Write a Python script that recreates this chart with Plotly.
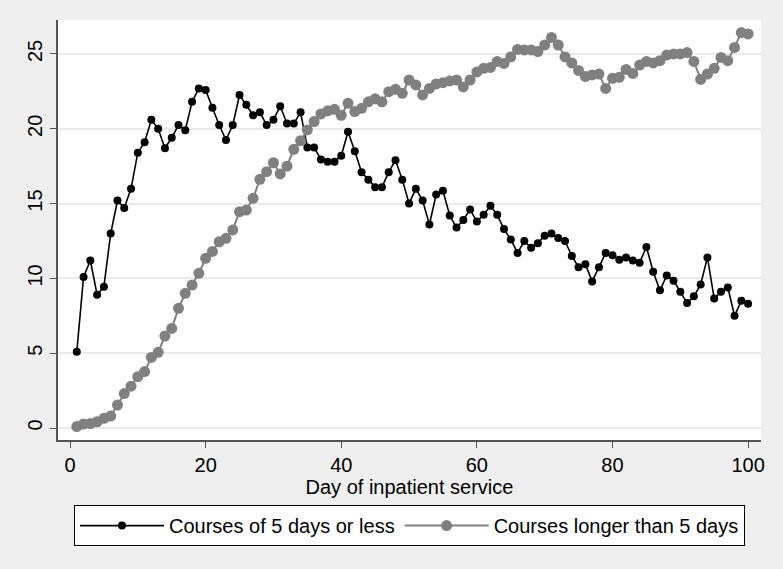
import plotly.graph_objects as go

days = list(range(1, 101))

short_courses = [
    5.1, 10.1, 11.2, 8.9, 9.45, 13.0, 15.2, 14.7, 16.0, 18.4,
    19.1, 20.6, 20.0, 18.7, 19.4, 20.25, 19.9, 21.8, 22.7, 22.6,
    21.4, 20.25, 19.25, 20.25, 22.25, 21.6, 20.9, 21.1, 20.25, 20.6,
    21.5, 20.35, 20.35, 21.1, 18.75, 18.75, 17.95, 17.8, 17.8, 18.2,
    19.8, 18.5, 17.1, 16.6, 16.1, 16.1, 17.1, 17.9, 16.6, 15.0,
    16.0, 15.2, 13.6, 15.6, 15.85, 14.2, 13.4, 13.9, 14.6, 13.8,
    14.25, 14.85, 14.25, 13.3, 12.6, 11.7, 12.5, 12.05, 12.35, 12.85,
    13.0, 12.7, 12.5, 11.5, 10.75, 10.95, 9.8, 10.75, 11.7, 11.55,
    11.25, 11.4, 11.2, 11.05, 12.1, 10.45, 9.2, 10.2, 9.85, 9.1,
    8.35, 8.8, 9.6, 11.4, 8.65, 9.1, 9.4, 7.5, 8.5, 8.3,
]

long_courses = [
    0.1, 0.27, 0.3, 0.42, 0.65, 0.8, 1.54, 2.3, 2.8, 3.43,
    3.77, 4.72, 5.06, 6.15, 6.66, 8.0, 9.0, 9.56, 10.34, 11.34,
    11.8, 12.45, 12.68, 13.24, 14.46, 14.57, 15.35, 16.62, 17.13, 17.73,
    16.98, 17.5, 18.63, 19.2, 19.92, 20.48, 20.99, 21.2, 21.3, 20.9,
    21.7, 21.15, 21.37, 21.8, 22.0, 21.8, 22.48, 22.64, 22.37, 23.26,
    22.93, 22.26, 22.7, 23.0, 23.08, 23.2, 23.26, 22.8, 23.26, 23.8,
    24.04, 24.1, 24.5, 24.37, 24.8, 25.3, 25.27, 25.27, 25.16, 25.6,
    26.1, 25.6, 24.8, 24.4, 23.9, 23.5, 23.6, 23.66, 22.7, 23.37,
    23.44, 23.97, 23.7, 24.26, 24.5, 24.4, 24.55, 24.93, 25.0, 25.0,
    25.09, 24.5, 23.3, 23.66, 24.04, 24.77, 24.55, 25.44, 26.43, 26.34,
]

x_ticks = [0, 20, 40, 60, 80, 100]
y_ticks = [0, 5, 10, 15, 20, 25]
x_title = "Day of inpatient service"
name_short = "Courses of 5 days or less"
name_long = "Courses longer than 5 days"

FONT = "Liberation Sans, Arial, Helvetica, sans-serif"

fig = go.Figure()
fig.add_trace(go.Scatter(
    x=days, y=short_courses, name=name_short, mode="lines+markers",
    line=dict(color="#000000", width=1.6),
    marker=dict(color="#000000", size=8),
))
fig.add_trace(go.Scatter(
    x=days, y=long_courses, name=name_long, mode="lines+markers",
    line=dict(color="#808080", width=2),
    marker=dict(color="#808080", size=11),
))

fig.update_layout(
    width=783, height=569,
    margin=dict(l=58, r=22, t=20, b=129),
    paper_bgcolor="#efefef",
    plot_bgcolor="#ffffff",
    font=dict(family=FONT, size=20, color="#000000"),
    showlegend=True,
    legend=dict(
        orientation="h", x=0.5, xanchor="center", y=-0.155, yanchor="top",
        bgcolor="#ffffff", bordercolor="#000000", borderwidth=1,
        font=dict(family=FONT, size=20, color="#000000"),
        itemwidth=84,
    ),
    xaxis=dict(
        range=[-1.77, 101.9], tickvals=x_ticks,
        showgrid=False, zeroline=False,
        showline=True, linecolor="#555555", linewidth=1.5,
        ticks="outside", ticklen=6, tickcolor="#555555",
        tickfont=dict(size=20),
        title=dict(text=x_title, font=dict(size=20), standoff=2),
    ),
    yaxis=dict(
        range=[-0.8, 27.27], tickvals=y_ticks,
        showgrid=True, gridcolor="#eaeaea", gridwidth=1.5,
        zeroline=False,
        showline=True, linecolor="#555555", linewidth=1.5,
        ticks="outside", ticklen=6, tickcolor="#555555",
        tickangle=-90, tickfont=dict(size=20),
    ),
)

fig.write_html("out.html", config={"displayModeBar": False})

with open("out.html", "r", encoding="utf-8") as f:
    html = f.read()
html = html.replace("<head>", "<head><style>html,body{margin:0;padding:0;overflow:hidden;}</style>", 1)
with open("out.html", "w", encoding="utf-8") as f:
    f.write(html)
